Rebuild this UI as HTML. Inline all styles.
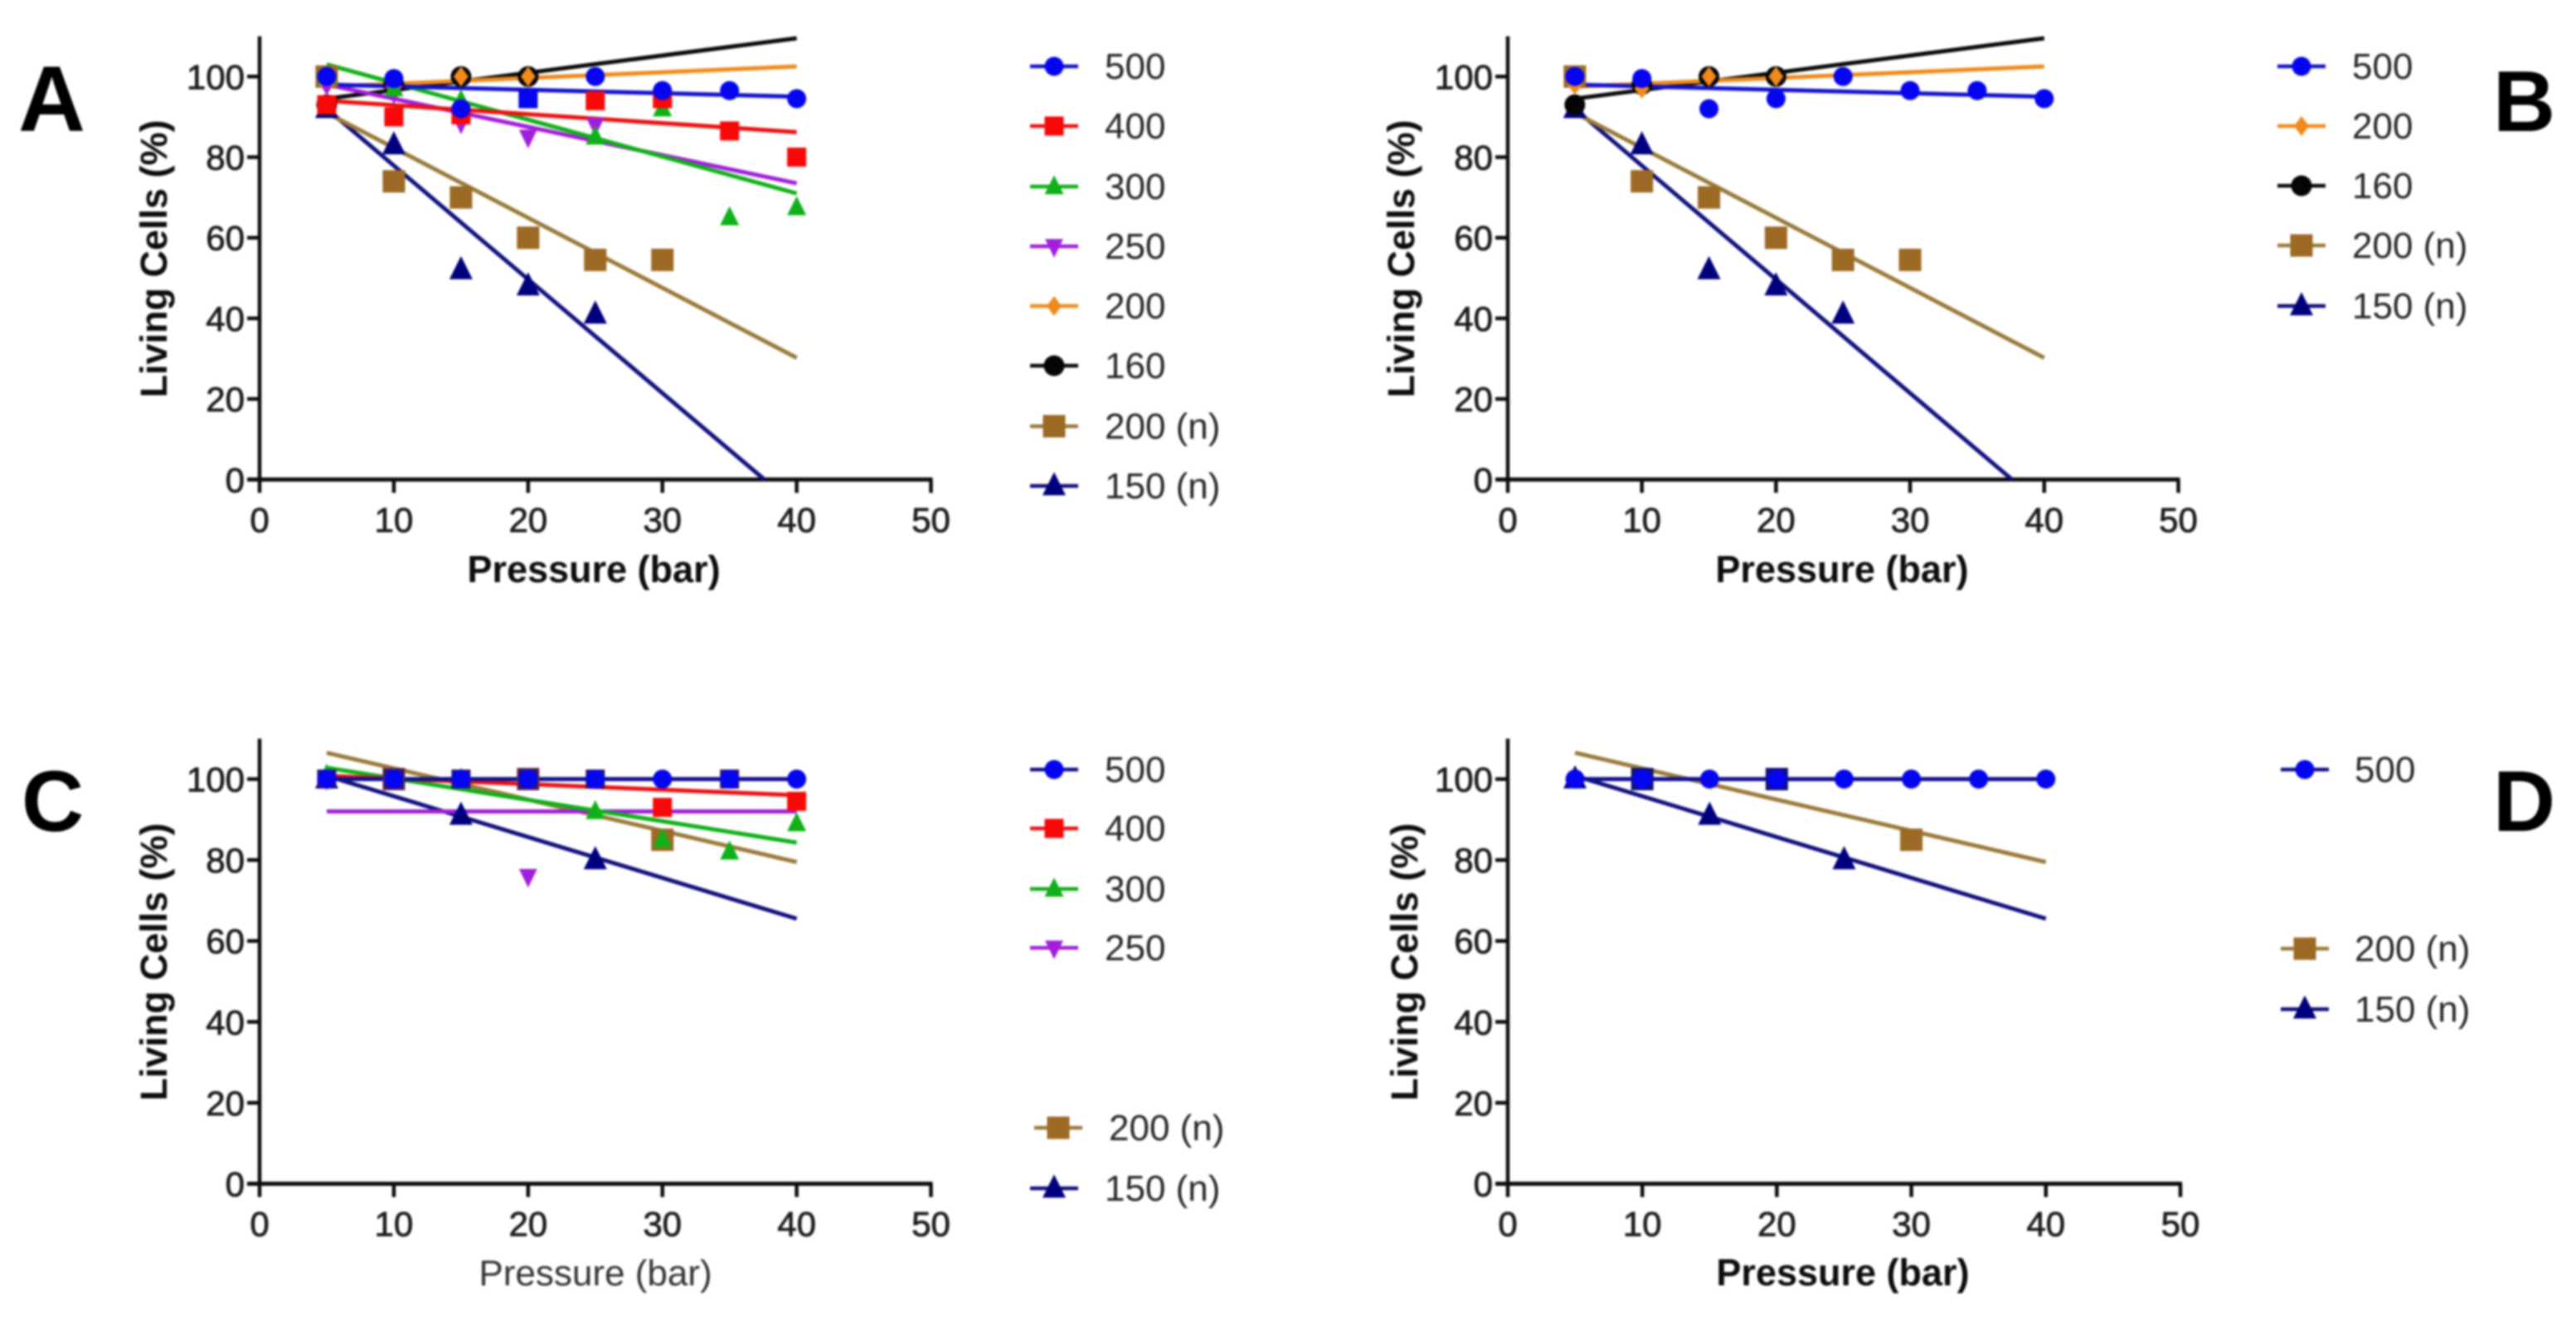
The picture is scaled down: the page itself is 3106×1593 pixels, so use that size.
<!DOCTYPE html>
<html lang="en">
<head>
<meta charset="utf-8">
<title>Living Cells vs Pressure</title>
<style>
  html, body { margin: 0; padding: 0; background: #fff; }
  body { width: 3106px; height: 1593px; overflow: hidden; }
  svg { display: block; filter: blur(1.2px); font-family: "Liberation Sans", Arial, sans-serif; }
  .tick-label { font-size: 42px; fill: #1c1c1c; stroke: #1c1c1c; stroke-width: 0.8px; }
  .legend-label { font-size: 44px; fill: #262626; }
  .axis-title { font-size: 45px; font-weight: bold; fill: #0c0c0c; }
  .axis-title-plain { font-size: 44px; fill: #333; }
  .panel-letter { font-size: 104px; font-weight: bold; fill: #000; }
</style>
</head>
<body>
<svg id="figure" xmlns="http://www.w3.org/2000/svg" width="3106" height="1593" viewBox="0 0 3106 1593">
  <rect x="0" y="0" width="3106" height="1593" fill="#ffffff"/>

  <text class="panel-letter" x="22" y="158" style="font-size:112px">A</text>
  <text class="panel-letter" x="3006" y="158">B</text>
  <text class="panel-letter" x="26" y="1002">C</text>
  <text class="panel-letter" x="3006" y="1002">D</text>

  <text class="axis-title" text-anchor="middle" transform="translate(201 312) rotate(-90)">Living Cells (%)</text>
  <text class="axis-title" text-anchor="middle" transform="translate(1705 312) rotate(-90)">Living Cells (%)</text>
  <text class="axis-title" text-anchor="middle" transform="translate(201 1160) rotate(-90)">Living Cells (%)</text>
  <text class="axis-title" text-anchor="middle" transform="translate(1709 1160) rotate(-90)">Living Cells (%)</text>

  <text class="axis-title" text-anchor="middle" x="716" y="702">Pressure (bar)</text>
  <text class="axis-title" text-anchor="middle" x="2221" y="702">Pressure (bar)</text>
  <text class="axis-title-plain" text-anchor="middle" x="718" y="1550">Pressure (bar)</text>
  <text class="axis-title" text-anchor="middle" x="2222" y="1550">Pressure (bar)</text>

  <g id="plots"></g>
</svg>

<script>
// ---- Axis values ----
const xTickValues = [0, 10, 20, 30, 40, 50];
const yTickValues = [0, 20, 40, 60, 80, 100];
const pressure = [5, 10, 15, 20, 25, 30, 35, 40];

// ---- Panels A / B measurements (null = no point) ----
const cells500Top  = [100, 99.5, 92, 94.5, 100, 96.5, 96.5, 94.5];
const cells400Top  = [93, 90, 90.5, 94.5, 94, 94.5, 86.5, 80];
const cells300Top  = [100, 97, 94, null, 85, 92, 65, 67.5];
const cells250Top  = [98, 96, 88.5, 85, 88, null, null, null];
const cells200Top  = [98, 97, 100, 100, null, null, null, null];
const cells160Top  = [93, 98, 100, 100, null, null, null, null];
const cells200nTop = [100, 74, 70, 60, 54.5, 54.5, null, null];
const cells150nTop = [92, 83, 52, 48, 41, null, null, null];

// ---- Panels A / B fit lines: start and end pressure, start and end value ----
const fit500TopX = [5, 40],    fit500TopY = [98, 95];
const fit400TopX = [5, 40],    fit400TopY = [94, 86.2];
const fit300TopX = [5, 40],    fit300TopY = [103, 71];
const fit250TopX = [5, 40],    fit250TopY = [98, 73.5];
const fit200TopX = [5, 40],    fit200TopY = [97.5, 102.5];
const fit160TopX = [5, 40],    fit160TopY = [94.5, 109.5];
const fit200nTopX = [5, 40],   fit200nTopY = [91, 30.2];
const fit150nTopX = [5, 37.6], fit150nTopY = [92, 0];

// ---- Panels C / D measurements ----
const cells500Bot  = [100, 100, 100, 100, 100, 100, 100, 100];
const cells400Bot  = [100, 100, 100, 100, 100, 93, 100, 94.5];
const cells300Bot  = [101, 100, 100, 100, 92, 85, 82, 89];
const cells250Bot  = [100, null, null, 76, null, null, null, null];
const cells200nBot = [null, 100, null, 100, null, 85, null, null];
const cells150nBot = [100, null, 91, null, 80, null, null, null];

// ---- Panels C / D fit lines ----
const fit500BotX = [5, 40],  fit500BotY = [100, 100];
const fit400BotX = [5, 40],  fit400BotY = [100.8, 96];
const fit300BotX = [5, 40],  fit300BotY = [102.8, 84.3];
const fit250BotX = [5, 40],  fit250BotY = [92, 92];
const fit200nBotX = [5, 40], fit200nBotY = [106.5, 79.5];
const fit150nBotX = [5, 40], fit150nBotY = [100.8, 65.5];

// ---- Series labels ----
const label500 = '500', label400 = '400', label300 = '300', label250 = '250';
const label200 = '200', label160 = '160', label200n = '200 (n)', label150n = '150 (n)';

// ---- Series styles ----
const styleBlue   = { key: 's500',  marker: 'circle',   color: '#0505f0', line: '#1212d2', size: 11.5 };
const styleBlueDk = { key: 's500',  marker: 'circle',   color: '#0505f0', line: '#12128e', size: 11.5 };
const styleRed    = { key: 's400',  marker: 'square',   color: '#f80808', line: '#ee1010', size: 11.5 };
const styleGreen  = { key: 's300',  marker: 'triUp',    color: '#10b018', line: '#10b018', size: 11.5 };
const stylePurple = { key: 's250',  marker: 'triDown',  color: '#a11fdc', line: '#a11fdc', size: 11 };
const styleOrange = { key: 's200',  marker: 'diamond',  color: '#f08a1c', line: '#f08a1c', size: 10.5 };
const styleBlack  = { key: 's160',  marker: 'circle',   color: '#050505', line: '#0a0a0a', size: 12.5 };
const styleBrown  = { key: 's200n', marker: 'square',   color: '#9c6a24', line: '#9a7a3a', size: 13.5 };
const styleNavy   = { key: 's150n', marker: 'triUp',    color: '#00007e', line: '#10107e', size: 14 };

function S(style, label, xs, ys, values) { return { style, label, xs, ys, values }; }

const s500T = S(styleBlue, label500, fit500TopX, fit500TopY, cells500Top);
const s400T = S(styleRed, label400, fit400TopX, fit400TopY, cells400Top);
const s300T = S(styleGreen, label300, fit300TopX, fit300TopY, cells300Top);
const s250T = S(stylePurple, label250, fit250TopX, fit250TopY, cells250Top);
const s200T = S(styleOrange, label200, fit200TopX, fit200TopY, cells200Top);
const s160T = S(styleBlack, label160, fit160TopX, fit160TopY, cells160Top);
const s200nT = S(styleBrown, label200n, fit200nTopX, fit200nTopY, cells200nTop);
const s150nT = S(styleNavy, label150n, fit150nTopX, fit150nTopY, cells150nTop);
const s500B = S(styleBlueDk, label500, fit500BotX, fit500BotY, cells500Bot);
const s400B = S(styleRed, label400, fit400BotX, fit400BotY, cells400Bot);
const s300B = S(styleGreen, label300, fit300BotX, fit300BotY, cells300Bot);
const s250B = S(stylePurple, label250, fit250BotX, fit250BotY, cells250Bot);
const s200nB = S(styleBrown, label200n, fit200nBotX, fit200nBotY, cells200nBot);
const s150nB = S(styleNavy, label150n, fit150nBotX, fit150nBotY, cells150nBot);

// ---- Panels: frame geometry, series in legend order, legend rows.
//      `under` tints squares hidden beneath a 500 circle at the same value. ----
const panels = [
  { id: 'a', x0: 313, xUnit: 16.19, y0: 578.3, yUnit: 4.86, lx: 1271, tx: 1332,
    series: [s500T, s400T, s300T, s250T, s200T, s160T, s200nT, s150nT],
    under: { s400: '#0606e0' },
    rows: [80, 152, 225, 297, 369, 441, 514, 586], rowX: [0,0,0,0,0,0,0,0] },
  { id: 'b', x0: 1818, xUnit: 16.17, y0: 578.3, yUnit: 4.86, lx: 2775, tx: 2836,
    series: [s500T, s200T, s160T, s200nT, s150nT],
    under: {},
    rows: [80, 152, 224, 296, 369], rowX: [0,0,0,0,0] },
  { id: 'c', x0: 313, xUnit: 16.19, y0: 1427.5, yUnit: 4.88, lx: 1271, tx: 1332,
    series: [s500B, s400B, s300B, s250B, s200nB, s150nB],
    under: { s400: '#2a1470', s200n: '#6a2a50' },
    rows: [928, 999, 1072, 1143, 1360, 1433], rowX: [0,0,0,0,5,0] },
  { id: 'd', x0: 1818, xUnit: 16.22, y0: 1427.5, yUnit: 4.88, lx: 2779, tx: 2839,
    series: [s500B, s200nB, s150nB],
    under: { s200n: '#10107a' },
    rows: [928, 1144, 1217], rowX: [0,0,0] }
];

const NS = 'http://www.w3.org/2000/svg';
const root = document.getElementById('plots');

function make(tag, attrs, parent) {
  const el = document.createElementNS(NS, tag);
  for (const k in attrs) el.setAttribute(k, attrs[k]);
  parent.appendChild(el);
  return el;
}

function markerShape(style, cx, cy, parent, fillOverride) {
  const r = style.size, c = fillOverride || style.color;
  let el;
  if (style.marker === 'circle') {
    el = make('ellipse', { cx: cx, cy: cy, rx: r, ry: r, fill: c }, parent);
  } else if (style.marker === 'square') {
    el = make('rect', { x: cx - r, y: cy - r, width: 2 * r, height: 2 * r, fill: c }, parent);
  } else if (style.marker === 'triUp') {
    el = make('polygon', { points: [cx, cy - r * 1.2, cx + r, cy + r * 0.8, cx - r, cy + r * 0.8].join(' '), fill: c }, parent);
  } else if (style.marker === 'triDown') {
    el = make('polygon', { points: [cx, cy + r * 1.25, cx + r, cy - r * 0.8, cx - r, cy - r * 0.8].join(' '), fill: c }, parent);
  } else {
    el = make('polygon', { points: [cx, cy - r * 1.15, cx + r * 0.85, cy, cx, cy + r * 1.15, cx - r * 0.85, cy].join(' '), fill: c }, parent);
  }
  return el;
}

panels.forEach(function (p) {
  const px = function (v) { return p.x0 + v * p.xUnit; };
  const py = function (v) { return p.y0 - v * p.yUnit; };

  const panel = make('g', {}, root);
  
  

  // Axes
  const axes = make('g', { stroke: '#0c0c0c', 'stroke-width': 4.5, fill: 'none' }, panel);
  
  

  const yAxis = make('line', { x1: px(0), x2: px(0), y1: py(110), y2: p.y0 + 2 }, axes);
  
  

  const xAxis = make('line', { x1: px(0) - 15, x2: px(50) + 2, y1: p.y0, y2: p.y0, 'stroke-width': 5 }, axes);
  
  

  yTickValues.forEach(function (v) {
    const tick = make('line', { x1: px(0) - 15, x2: px(0), y1: py(v), y2: py(v) }, axes);
    
    

    const label = make('text', { class: 'tick-label', x: px(0) - 18, y: py(v) + 15, 'text-anchor': 'end' }, panel);
    
    
    label.textContent = String(v);
  });

  xTickValues.forEach(function (v) {
    const tick = make('line', { x1: px(v), x2: px(v), y1: p.y0, y2: p.y0 + 16 }, axes);
    
    

    const label = make('text', { class: 'tick-label', x: px(v), y: p.y0 + 63, 'text-anchor': 'middle' }, panel);
    
    
    label.textContent = String(v);
  });

  // Series: later legend entries are painted first
  const painted = p.series.slice().reverse();
  const ref500 = p.series[0].values;

  painted.forEach(function (s) {
    const fit = make('line', {
      x1: px(s.xs[0]), x2: px(s.xs[1]), y1: py(s.ys[0]), y2: py(s.ys[1]),
      stroke: s.style.line, 'stroke-width': 5
    }, panel);
    
    
  });

  painted.forEach(function (s) {
    const group = make('g', {}, panel);
    
    
    s.values.forEach(function (v, i) {
      if (v === null) return;
      const tint = (ref500[i] === v) ? p.under[s.style.key] : null;
      const mark = markerShape(s.style, px(pressure[i]), py(v), group, tint);
      
      
      mark.setAttribute('data-value', String(v));
    });
  });

  // Legend
  p.series.forEach(function (s, i) {
    const cy = p.rows[i], cx = p.lx + p.rowX[i];
    const entry = make('g', {}, panel);
    
    

    const swatch = make('line', { x1: cx - 29, x2: cx + 29, y1: cy, y2: cy, stroke: s.style.line, 'stroke-width': 4.5 }, entry);
    
    

    const glyph = markerShape(s.style, cx, cy, entry);
    
    

    const text = make('text', { class: 'legend-label', x: p.tx + p.rowX[i], y: cy + 15 }, entry);
    
    
    text.textContent = s.label;
  });
});
</script>
</body>
</html>
